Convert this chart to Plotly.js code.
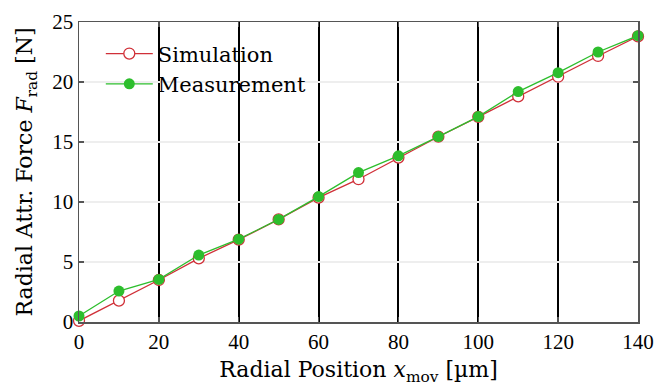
<!DOCTYPE html>
<html>
<head>
<meta charset="utf-8">
<script src="https://cdn.plot.ly/plotly-3.0.1.min.js"></script>
<style>html,body{margin:0;padding:0;background:#fff;}#chart{width:670px;height:387px;}</style>
</head>
<body>
<div id="chart"></div>
<script>
var positions = [0, 10, 20, 30, 40, 50, 60, 70, 80, 90, 100, 110, 120, 130, 140];
var simulation = [0.1, 1.78, 3.5, 5.3, 6.86, 8.55, 10.36, 11.9, 13.7, 15.44, 17.1, 18.8, 20.44, 22.17, 23.8];
var measurement = [0.5, 2.58, 3.55, 5.58, 6.9, 8.55, 10.45, 12.45, 13.85, 15.45, 17.12, 19.2, 20.78, 22.5, 23.86];
var xTicks = [0, 20, 40, 60, 80, 100, 120, 140];
var yTicks = [0, 5, 10, 15, 20, 25];

var titleFam = 'DejaVu Serif, serif';
var tickFam = 'Liberation Serif, serif';

var traces = [
  {
    x: positions, y: simulation, name: 'Simulation', type: 'scatter', mode: 'lines+markers',
    line: {color: '#d03038', width: 1.3},
    marker: {symbol: 'circle', size: 11, color: '#ffffff', line: {color: '#d03038', width: 1.3}},
    cliponaxis: false
  },
  {
    x: positions, y: measurement, name: 'Measurement', type: 'scatter', mode: 'lines+markers',
    line: {color: '#2dbe2d', width: 1.3},
    marker: {symbol: 'circle', size: 11, color: '#2dbe2d', line: {width: 0}},
    cliponaxis: false
  }
];

var layout = {
  width: 670, height: 387,
  margin: {l: 79, r: 32, t: 22, b: 65},
  paper_bgcolor: '#ffffff', plot_bgcolor: '#ffffff',
  font: {family: titleFam, size: 19, color: '#000'},
  showlegend: true,
  legend: {
    x: 0.039, y: 0.962, xanchor: 'left', yanchor: 'top',
    bgcolor: 'rgba(255,255,255,0)', borderwidth: 0,
    font: {family: titleFam, size: 21, color: '#000'},
    itemsizing: 'trace', itemwidth: 47, tracegroupgap: 0
  },
  xaxis: {
    range: [0, 140], tickvals: xTicks, ticktext: xTicks.map(String),
    showgrid: true, gridcolor: '#000000', gridwidth: 2,
    showline: true, linecolor: '#555555', linewidth: 1.5, mirror: 'ticks',
    ticks: 'inside', ticklen: 5, tickcolor: '#555555', tickwidth: 1.5,
    zeroline: false, tickfont: {family: tickFam, size: 21, color: '#000'},
    title: {text: 'Radial Position <i>x</i><sub>mov</sub> [µm]', font: {family: titleFam, size: 22, color: '#000'}, standoff: 9}
  },
  yaxis: {
    range: [0, 25], tickvals: yTicks, ticktext: yTicks.map(String),
    showgrid: true, gridcolor: '#eeeeee', gridwidth: 2,
    showline: true, linecolor: '#555555', linewidth: 1.5, mirror: 'ticks',
    ticks: 'inside', ticklen: 5, tickcolor: '#555555', tickwidth: 1.5,
    zeroline: false, tickfont: {family: tickFam, size: 21, color: '#000'},
    title: {text: 'Radial Attr. Force <i>F</i><sub>rad</sub> [N]', font: {family: titleFam, size: 22, color: '#000'}, standoff: 13}
  }
};

Plotly.newPlot('chart', traces, layout, {displayModeBar: false, staticPlot: true});
</script>
</body>
</html>
